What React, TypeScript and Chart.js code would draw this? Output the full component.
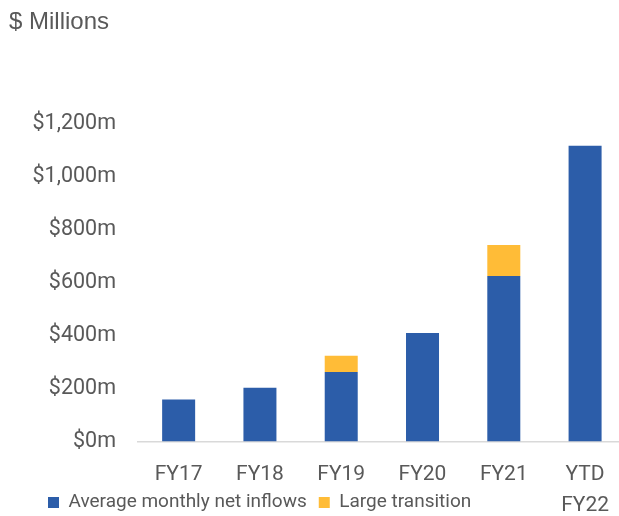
import React, { useEffect, useRef } from "react";
import { Chart, registerables } from "chart.js";

Chart.register(...registerables);

const categories: (string | string[])[] = ["FY17", "FY18", "FY19", "FY20", "FY21", ["YTD", "FY22"]];
const inflows: number[] = [158, 203, 262, 409, 624, 1115];
const transitions: (number | null)[] = [null, null, 61, null, 117, null];
const yTicks: number[] = [0, 200, 400, 600, 800, 1000, 1200];
const seriesNames = ["Average monthly net inflows", "Large transition"];

const BLUE = "#2C5DA9";
const YELLOW = "#FFBC37";
const TEXT = "#595959";
const FONT = "Roboto, 'Open Sans', sans-serif";

export default function App() {
  const ref = useRef<HTMLCanvasElement | null>(null);

  useEffect(() => {
    if (!ref.current) return;
    const placePlugin = {
      id: "place",
      beforeDraw(chart: any) {
        const lg = chart.legend;
        if (lg) {
          const h = lg.height;
          lg.left = 36;
          lg.right = 619;
          lg.top = 481;
          lg.bottom = 481 + h;
        }
        const t = chart.titleBlock;
        if (t) {
          const w = t.width;
          t.left = 9;
          t.right = 9 + w;
        }
        const xs = chart.scales.x;
        if (xs) xs.bottom = 516;
      },
    };
    const chart = new Chart(ref.current, {
      type: "bar",
      data: {
        labels: categories as any,
        datasets: [
          {
            label: seriesNames[0],
            data: inflows,
            backgroundColor: BLUE,
            borderWidth: 0,
            barPercentage: 0.406,
            categoryPercentage: 1,
          },
          {
            label: seriesNames[1],
            data: transitions,
            backgroundColor: YELLOW,
            borderWidth: 0,
            barPercentage: 0.406,
            categoryPercentage: 1,
          },
        ],
      },
      options: {
        animation: false,
        responsive: true,
        maintainAspectRatio: false,
        layout: { padding: { left: 0, right: 0, top: 0, bottom: 0 } },
        plugins: {
          title: {
            display: true,
            text: "$ Millions",
            align: "start",
            color: TEXT,
            font: { family: "'Liberation Sans', Arial, sans-serif", size: 24, weight: "normal" },
            padding: { top: 8, bottom: 86.5 },
          },
          legend: {
            display: true,
            position: "bottom",
            align: "start",
            labels: {
              boxWidth: 11,
              boxHeight: 11,
              padding: 12,
              color: TEXT,
              font: { family: FONT, size: 19 },
            },
          },
          tooltip: { enabled: false },
        },
        scales: {
          x: {
            stacked: true,
            grid: { display: false, drawTicks: false },
            border: { display: true, color: "#D9D9D9", width: 1.5 },
            ticks: {
              color: TEXT,
              font: { family: FONT, size: 21, lineHeight: 1.5 },
              padding: 17,
              maxRotation: 0,
              autoSkip: false,
            },
            afterFit: (scale: any) => {
              const lh = scale.chart.legend ? scale.chart.legend.height : 0;
              scale.height = 516 - 441.5 - lh;
            },
          },
          y: {
            stacked: true,
            min: 0,
            max: 1200,
            grid: { display: false, drawTicks: false },
            border: { display: false },
            afterBuildTicks: (scale: any) => {
              scale.ticks = yTicks.map((v) => ({ value: v }));
            },
            ticks: {
              color: TEXT,
              font: { family: FONT, size: 21.5 },
              padding: 22,
              callback: (v: any) => "$" + Number(v).toLocaleString("en-US") + "m",
            },
            afterFit: (scale: any) => {
              scale.width = 138;
            },
          },
        },
      },
      plugins: [placePlugin],
    });
    return () => chart.destroy();
  }, []);

  return (
    <div style={{ position: "fixed", left: 0, top: 0, width: 619, height: 516, overflow: "hidden", background: "#fff" }}>
      <div style={{ position: "absolute", left: 0, top: 0, width: 626, height: 516 }}>
        <canvas ref={ref} />
      </div>
    </div>
  );
}
